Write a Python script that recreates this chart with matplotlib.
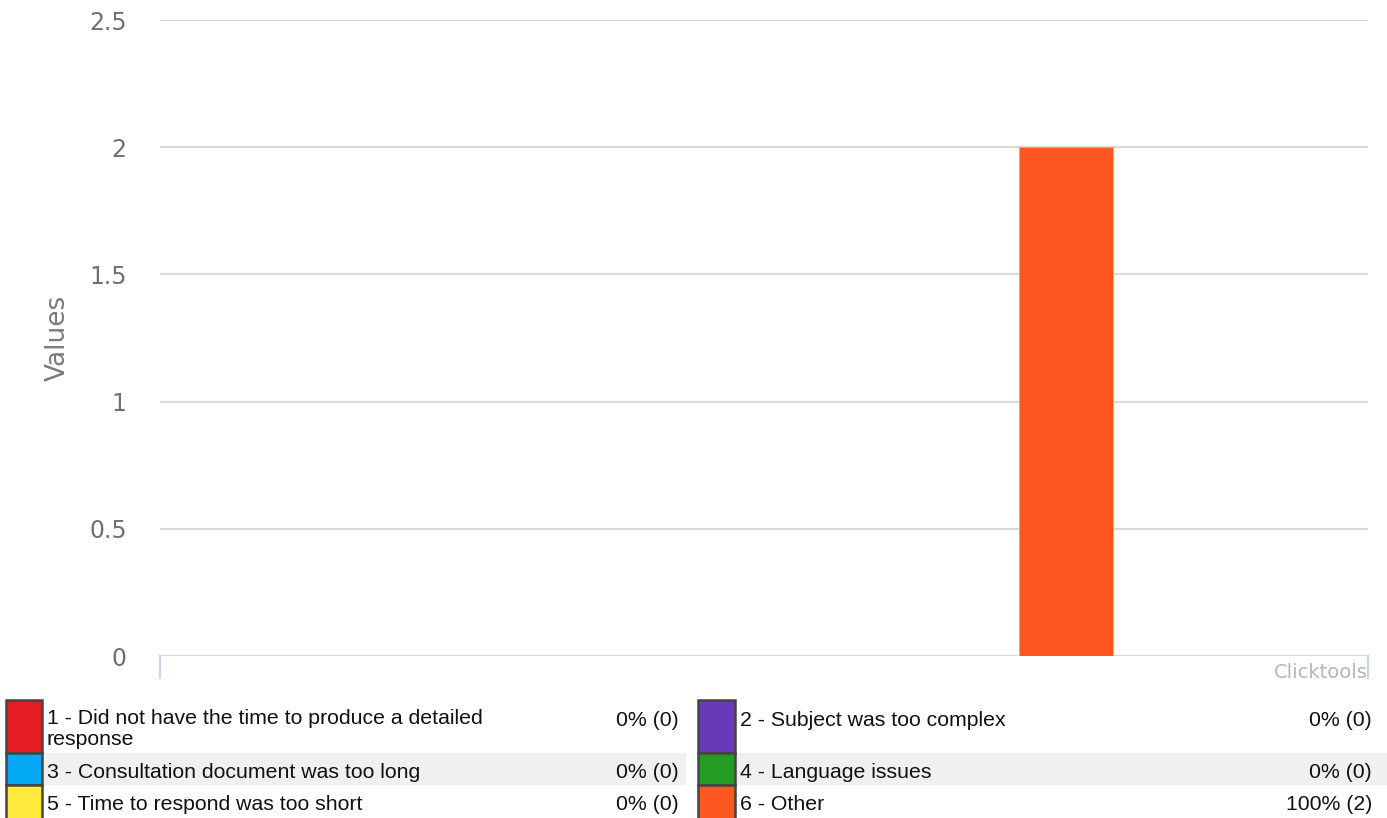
import textwrap
import numpy as np
import matplotlib
matplotlib.use("Agg")
import matplotlib.pyplot as plt
from matplotlib.patches import Rectangle

W, H = 1387, 818

labels = ["1 - Did not have the time to produce a detailed response",
          "2 - Subject was too complex",
          "3 - Consultation document was too long",
          "4 - Language issues",
          "5 - Time to respond was too short",
          "6 - Other"]
counts = [0, 0, 0, 0, 0, 2]
colors = ["#e51c23", "#673ab7", "#03a9f4", "#259b24", "#ffeb3b", "#ff5722"]
yticks = [0, 0.5, 1, 1.5, 2, 2.5]
ytick_labels = ["0", "0.5", "1", "1.5", "2", "2.5"]


def fx(x):
    return x / W


def fy(y):
    return 1 - y / H


fig = plt.figure(figsize=(W / 100, H / 100), dpi=100)
ax = fig.add_axes([fx(160), fy(656), fx(1368) - fx(160), fy(20) - fy(656)])

pos = np.arange(len(counts))
ax.bar(pos, counts, width=0.47, color=colors, edgecolor="#ff9a7a", linewidth=0.6, zorder=3)
ax.set_xlim(0.5, 6.5)
ax.set_ylim(0, 2.5)

ax.set_yticks(yticks)
ax.set_yticklabels(ytick_labels)
ax.set_xticks([])
ax.tick_params(axis="y", length=0, pad=24, labelsize=17, labelcolor="#707070")
ax.grid(axis="y", color="#d9d9d9", linewidth=1.5, zorder=0)
for s in ax.spines.values():
    s.set_visible(False)
ax.set_ylabel("Values", fontsize=19, color="#7a7a7a")
ax.yaxis.set_label_coords(-0.0736, 0.5)

# small end ticks under the x axis
for xa in (0, 1):
    ax.plot([xa, xa], [0, -22 / 636], transform=ax.transAxes, color="#c6d4e6",
            linewidth=1.5, clip_on=False)

fig.text(fx(1368), fy(672), "Clicktools", ha="right", va="center",
         fontsize=14, color="#b5b5b5")

# legend table
total = sum(counts)
wrapped = [textwrap.fill(l, 47) for l in labels]
nrows = (len(labels) + 1) // 2
row_top = 700
cols = [dict(sq=(6, 42), tx=47, pr=679, bg=(44, 686)),
        dict(sq=(698, 735), tx=740, pr=1372, bg=(736, 1387))]
txt = dict(fontsize=15.3, family="Liberation Sans", color="#111111", zorder=3)
for r in range(nrows):
    items = [2 * r, 2 * r + 1]
    nl = max(wrapped[i].count("\n") + 1 for i in items)
    h = 11 + 21 * nl
    if r == nrows - 1:
        h = H - row_top + 4
    for c, i in enumerate(items):
        col = cols[c]
        if r % 2 == 1:
            fig.patches.append(Rectangle((fx(col["bg"][0]), fy(row_top + h)),
                                         fx(col["bg"][1] - col["bg"][0]), h / H,
                                         transform=fig.transFigure,
                                         facecolor="#f0f0f0", edgecolor="none", zorder=0))
        fig.patches.append(Rectangle((fx(col["sq"][0]), fy(row_top + h)),
                                     fx(col["sq"][1] - col["sq"][0]), h / H,
                                     transform=fig.transFigure,
                                     facecolor=colors[i], edgecolor="#444444",
                                     linewidth=1.8, zorder=2))
        if "\n" in wrapped[i]:
            fig.text(fx(col["tx"]), fy(row_top + 9), wrapped[i], ha="left", va="top",
                     linespacing=1.15, **txt)
        else:
            fig.text(fx(col["tx"]), fy(row_top + 18), wrapped[i], ha="left",
                     va="center_baseline", **txt)
        pct = 100 * counts[i] / total if total else 0
        fig.text(fx(col["pr"]), fy(row_top + 18), "%d%% (%d)" % (round(pct), counts[i]),
                 ha="right", va="center_baseline", **txt)
    row_top += h

fig.savefig("out.png", dpi=100)
